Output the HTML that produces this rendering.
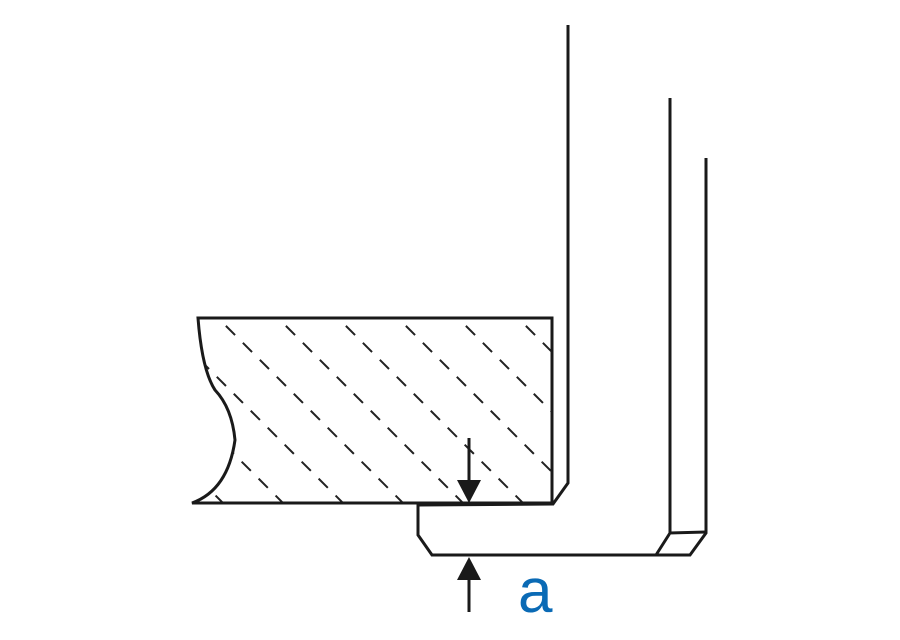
<!DOCTYPE html>
<html><head><style>body{margin:0;background:#fff}svg{display:block}</style></head>
<body>
<svg width="900" height="640" viewBox="0 0 900 640" xmlns="http://www.w3.org/2000/svg">
<defs>
<clipPath id="c"><path d="M198,318 L552,318 L552,503 L192,503 Q228,490 235,440 Q232,408 215,390 Q202,370 198,318 Z"/></clipPath>
</defs>
<g clip-path="url(#c)" stroke="#222" stroke-width="2" stroke-dasharray="13,11">
<line x1="38" y1="258" x2="338" y2="558"/>
<line x1="98" y1="258" x2="398" y2="558"/>
<line x1="158" y1="258" x2="458" y2="558"/>
<line x1="218" y1="258" x2="518" y2="558"/>
<line x1="278" y1="258" x2="578" y2="558"/>
<line x1="338" y1="258" x2="638" y2="558"/>
<line x1="398" y1="258" x2="698" y2="558"/>
<line x1="458" y1="258" x2="758" y2="558"/>
<line x1="518" y1="258" x2="818" y2="558"/>
<line x1="-22" y1="258" x2="278" y2="558"/>
</g>
<g fill="none" stroke="#1a1a1a" stroke-width="3" stroke-linejoin="miter">
<path d="M192,503 Q228,490 235,440 Q232,408 215,390 Q202,370 198,318 L552,318 L552,503 Z"/>
<path d="M568,25 L568,483 L553,504 L418,505 L418,535 L432,555 L690,555 L706,533 L706,158"/>
<path d="M670,98 L670,533 L706,532 M670,533 L656,555"/>
<line x1="469" y1="438" x2="469" y2="485"/>
<line x1="469" y1="575" x2="469" y2="612"/>
</g>
<path d="M457,480 L481,480 L469,503 Z" fill="#1a1a1a"/>
<path d="M457,580 L481,580 L469,557 Z" fill="#1a1a1a"/>
<text x="518" y="612" font-family="Liberation Sans, sans-serif" font-size="62" fill="#0a6ab5">a</text>
</svg>
</body></html>
